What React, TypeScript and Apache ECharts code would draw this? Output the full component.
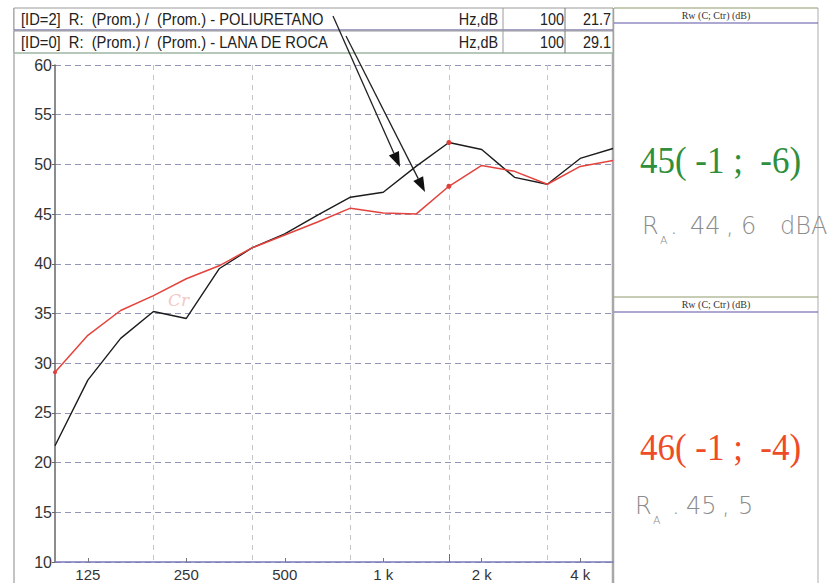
import React, { useEffect, useRef } from "react";
import * as echarts from "echarts";

// Third-octave band centre frequencies (Hz)
const freqs = ["100", "125", "160", "200", "250", "315", "400", "500", "630", "800", "1000", "1250", "1600", "2000", "2500", "3150", "4000", "5000"];
// Sound reduction index R (dB)
const poliuretano = [21.7, 28.3, 32.5, 35.2, 34.5, 39.5, 41.6, 43.0, 44.9, 46.7, 47.2, 49.8, 52.2, 51.5, 48.7, 48.0, 50.6, 51.6];
const lanaDeRoca = [29.1, 32.8, 35.3, 36.8, 38.5, 39.8, 41.6, 42.9, 44.2, 45.6, 45.1, 45.0, 47.8, 49.9, 49.3, 48.0, 49.8, 50.4];
// Bottom axis labels and vertical grid positions
const tickLabels: Record<string, string> = { "125": "125", "250": "250", "500": "500", "1000": "1 k", "2000": "2 k", "4000": "4 k" };
const gridFreqs = ["200", "400", "800", "1600", "3150"];
const cursorFreq = "1600";

const headerRows = [
  { label: "[ID=2]  R:  (Prom.) /  (Prom.) - POLIURETANO", unit: "Hz,dB", freq: "100", value: "21.7" },
  { label: "[ID=0]  R:  (Prom.) /  (Prom.) - LANA DE ROCA", unit: "Hz,dB", freq: "100", value: "29.1" },
];

// Rw (C; Ctr) results and the pencilled A-weighted values
const ratings = [
  { text: "45( -1 ;  -6)", color: "#2f8f3c", y: 160 },
  { text: "46( -1 ;  -4)", color: "#ee4b26", y: 447 },
];
const pencilNotes = [
  { y: 226, parts: [[670, "."], [690, "44"], [726, ","], [741, "6"], [780, "dBA"]] },
  { y: 506, parts: [[672, "."], [686, "45"], [722, ","], [738, "5"]] },
];
const pencilR = [
  { x: 642, y: 226 },
  { x: 635, y: 506 },
];

function arrow(x1: number, y1: number, x2: number, y2: number) {
  const ang = Math.atan2(y2 - y1, x2 - x1);
  const len = 15;
  const half = 5.5;
  const bx = x2 - len * Math.cos(ang);
  const by = y2 - len * Math.sin(ang);
  const px = -Math.sin(ang) * half;
  const py = Math.cos(ang) * half;
  return [
    { type: "line", shape: { x1, y1, x2: bx, y2: by }, style: { stroke: "#222", lineWidth: 1.3 }, z: 20 },
    {
      type: "polygon",
      shape: { points: [[x2, y2], [bx + px, by + py], [bx - px, by - py]] },
      style: { fill: "#111" },
      z: 20,
    },
  ];
}

export default function App() {
  const ref = useRef<HTMLDivElement>(null);

  useEffect(() => {
    if (!ref.current) return;
    const chart = echarts.init(ref.current, null, { renderer: "svg" });
    const cursorIdx = freqs.indexOf(cursorFreq);

    const graphic: any[] = [];
    // outer frame
    graphic.push({ type: "line", shape: { x1: 14, y1: 8, x2: 14, y2: 583 }, style: { stroke: "#b0b0b0", lineWidth: 1.5 } });
    graphic.push({ type: "line", shape: { x1: 613, y1: 8, x2: 613, y2: 583 }, style: { stroke: "#a8a8a8", lineWidth: 2.5 } });
    graphic.push({ type: "line", shape: { x1: 818, y1: 8, x2: 818, y2: 583 }, style: { stroke: "#c8c8c8", lineWidth: 1.5 } });

    // header rows
    headerRows.forEach((r, i) => {
      const top = 8 + i * 23;
      graphic.push({ type: "rect", shape: { x: 14, y: top, width: 599, height: 22 }, style: { fill: "#fff", stroke: "#9a9a9a", lineWidth: 1 } });
      graphic.push({ type: "line", shape: { x1: 14, y1: top + 22, x2: 613, y2: top + 22 }, style: { stroke: i === 0 ? "#7d7bbf" : "#9fc4a8", lineWidth: 1.2 } });
      graphic.push({ type: "line", shape: { x1: 503, y1: top, x2: 503, y2: top + 22 }, style: { stroke: "#9a9a9a", lineWidth: 1 } });
      graphic.push({ type: "line", shape: { x1: 565, y1: top, x2: 565, y2: top + 22 }, style: { stroke: "#777", lineWidth: 1 } });
      const font = "16px 'Liberation Sans', Arial, sans-serif";
      graphic.push({ type: "text", x: 21, y: top + 11, scaleX: 0.92, style: { text: r.label, font, fill: "#222", verticalAlign: "middle" } });
      graphic.push({ type: "text", x: 498, y: top + 11, scaleX: 0.9, style: { text: r.unit, font, fill: "#222", align: "right", verticalAlign: "middle" } });
      graphic.push({ type: "text", x: 564, y: top + 11, scaleX: 0.9, style: { text: r.freq, font, fill: "#222", align: "right", verticalAlign: "middle" } });
      graphic.push({ type: "text", x: 611, y: top + 11, scaleX: 0.9, style: { text: r.value, font, fill: "#222", align: "right", verticalAlign: "middle" } });
    });

    // right-hand rating panels
    [8, 297].forEach((top) => {
      graphic.push({ type: "line", shape: { x1: 614, y1: top, x2: 818, y2: top }, style: { stroke: "#8f9a6a", lineWidth: 1.2 } });
      graphic.push({ type: "text", x: 716, y: top + 7, style: { text: "Rw (C; Ctr) (dB)", font: "10px 'Liberation Serif', serif", fill: "#333", align: "center", verticalAlign: "middle" } });
      graphic.push({ type: "line", shape: { x1: 614, y1: top + 15, x2: 818, y2: top + 15 }, style: { stroke: "#5b53a6", lineWidth: 1.2 } });
    });
    ratings.forEach((r) => {
      graphic.push({ type: "text", x: 640, y: r.y, scaleX: 0.92, style: { text: r.text, font: "38px 'Liberation Serif', 'Times New Roman', serif", fill: r.color, verticalAlign: "middle" } });
    });
    const pencil = "300 24px 'DejaVu Sans', sans-serif";
    pencilR.forEach((p, i) => {
      graphic.push({ type: "text", x: p.x, y: p.y, style: { text: "R", font: pencil, fill: "#8c8c8c", verticalAlign: "middle" } });
      graphic.push({ type: "text", x: p.x + 18, y: p.y + 14, style: { text: "A", font: "300 11px 'DejaVu Sans', sans-serif", fill: "#8c8c8c", verticalAlign: "middle" } });
      pencilNotes[i].parts.forEach(([x, t]) => {
        graphic.push({ type: "text", x, y: pencilNotes[i].y, style: { text: t, font: pencil, fill: "#8c8c8c", verticalAlign: "middle" } });
      });
    });

    // faint pencil note near the curves
    graphic.push({ type: "text", x: 168, y: 300, style: { text: "Cr", font: "italic 17px 'DejaVu Serif', serif", fill: "#f4c8c8", verticalAlign: "middle" } });

    // arrows pointing at the two curves
    graphic.push(...arrow(333, 16, 400, 167));
    graphic.push(...arrow(346, 36, 425, 192));

    const labelFont = "'Liberation Sans', Arial, sans-serif";
    chart.setOption({
      animation: false,
      backgroundColor: "#ffffff",
      grid: { left: 55, top: 65, right: 214, bottom: 21, containLabel: false },
      xAxis: {
        type: "category",
        data: freqs,
        boundaryGap: false,
        axisLine: { show: true, lineStyle: { color: "#7b78b8", width: 1.5 } },
        axisTick: {
          show: true,
          inside: true,
          length: 4,
          interval: (_i: number, v: string) => v in tickLabels,
          lineStyle: { color: "#777" },
        },
        axisLabel: {
          interval: (_i: number, v: string) => v in tickLabels,
          formatter: (v: string) => tickLabels[v] ?? "",
          color: "#333",
          fontSize: 15,
          fontFamily: labelFont,
          margin: 5,
        },
        splitLine: {
          show: true,
          interval: (_i: number, v: string) => gridFreqs.includes(v),
          lineStyle: { color: "#c4c4c4", type: [5, 5], width: 1 },
        },
      },
      yAxis: {
        type: "value",
        min: 10,
        max: 60,
        interval: 5,
        axisLine: { show: true, lineStyle: { color: "#666", width: 1.5 } },
        axisTick: { show: true, length: 3, lineStyle: { color: "#666" } },
        axisLabel: { color: "#333", fontSize: 16, fontFamily: labelFont, margin: 3 },
        splitLine: { show: true, lineStyle: { color: "#9496b8", type: [6, 4], width: 1 } },
      },
      series: [
        {
          name: "POLIURETANO",
          type: "line",
          data: poliuretano,
          symbol: "none",
          lineStyle: { color: "#1c1c1c", width: 1.4 },
          markPoint: {
            symbol: "circle",
            symbolSize: 5,
            itemStyle: { color: "#e0403a" },
            label: { show: false },
            data: [{ coord: [cursorIdx, poliuretano[cursorIdx]] }],
          },
        },
        {
          name: "LANA DE ROCA",
          type: "line",
          data: lanaDeRoca,
          symbol: "none",
          lineStyle: { color: "#e4433d", width: 1.5 },
          markPoint: {
            symbol: "circle",
            symbolSize: 5,
            itemStyle: { color: "#e0403a" },
            label: { show: false },
            data: [{ coord: [cursorIdx, lanaDeRoca[cursorIdx]] }, { coord: [0, lanaDeRoca[0]], symbolSize: 4 }],
          },
          markLine: {
            silent: true,
            symbol: "none",
            label: { show: false },
            lineStyle: { color: "#e0403a", type: "solid", width: 1 },
            data: [[{ coord: [cursorIdx, 10] }, { coord: [cursorIdx, 10.8] }]],
          },
        },
      ],
      graphic,
    });

    return () => chart.dispose();
  }, []);

  return <div ref={ref} style={{ position: "fixed", left: 0, top: 0, width: 827, height: 583, background: "#fff" }} />;
}
